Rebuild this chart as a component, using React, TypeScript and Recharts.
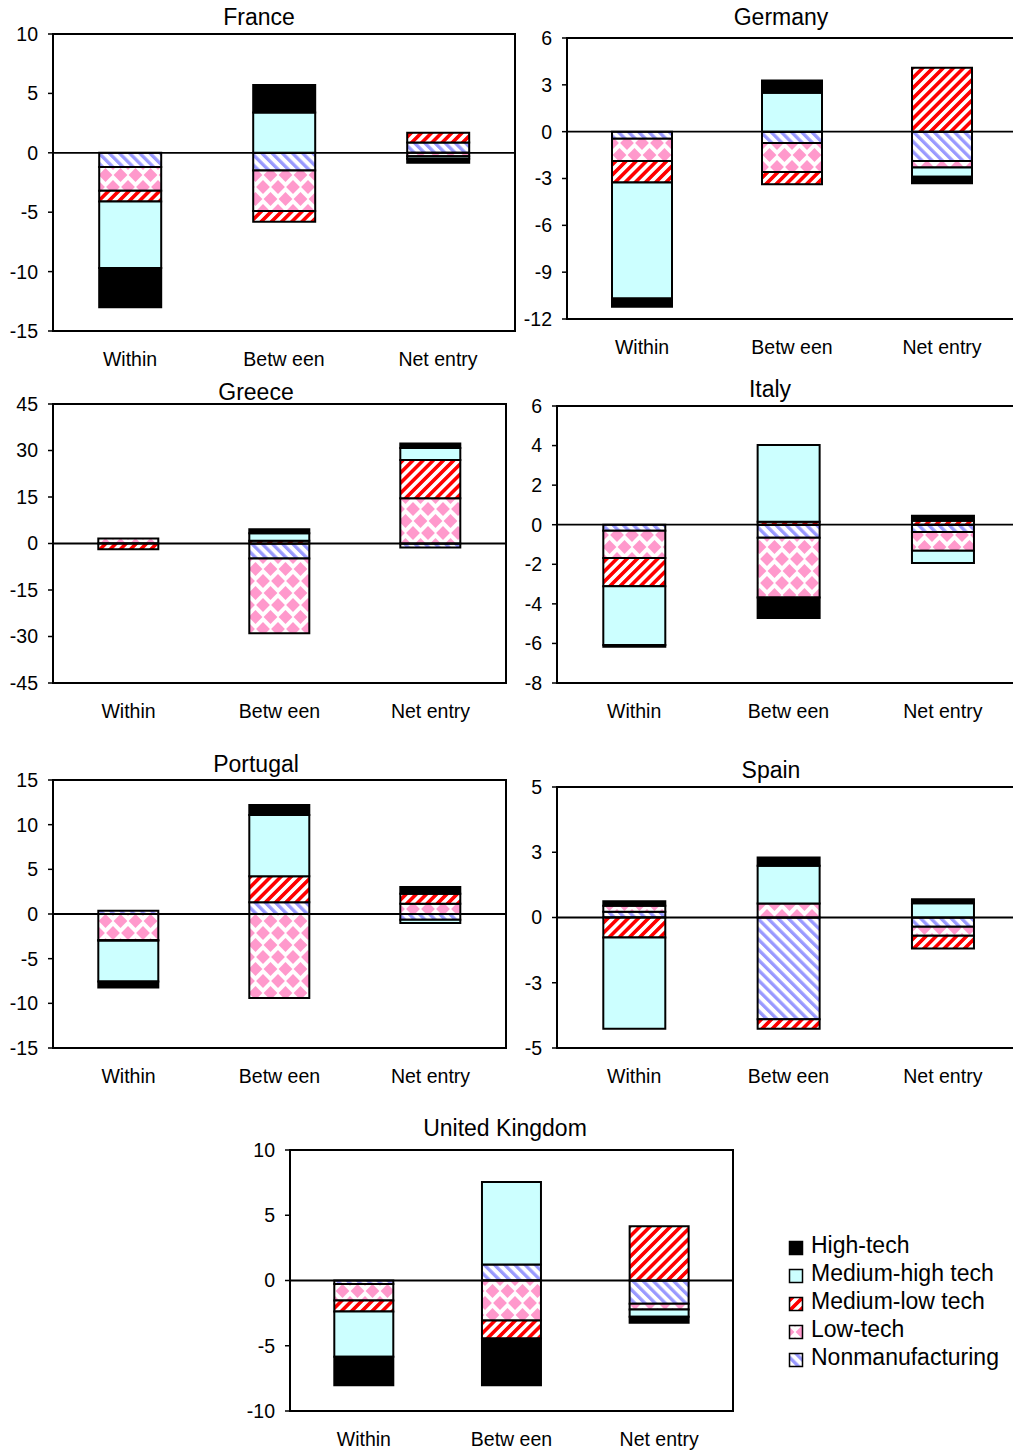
import React from "react";
import { BarChart, Bar, XAxis, YAxis, ReferenceLine, ReferenceArea } from "recharts";

const FONT = "'Liberation Sans', Arial, Helvetica, sans-serif";

const categories = ["Within", "Betw een", "Net entry"];
const legendLabels = ["High-tech", "Medium-high tech", "Medium-low tech", "Low-tech", "Nonmanufacturing"];

// values per sector: [Within, Between, Net entry]
const franceNonmanufacturing = [-1.2, -1.5, 0.87];
const franceLowTech = [-2.0, -3.4, -0.28];
const franceMediumLowTech = [-0.9, -0.9, 0.81];
const franceMediumHighTech = [-5.6, 3.4, -0.22];
const franceHighTech = [-3.3, 2.3, -0.34];
const franceTicks = [-15, -10, -5, 0, 5, 10];

const germanyNonmanufacturing = [-0.45, -0.72, -1.88];
const germanyLowTech = [-1.43, -1.86, -0.42];
const germanyMediumLowTech = [-1.38, -0.79, 4.09];
const germanyMediumHighTech = [-7.42, 2.49, -0.58];
const germanyHighTech = [-0.53, 0.79, -0.42];
const germanyTicks = [-12, -9, -6, -3, 0, 3, 6];

const greeceNonmanufacturing = [0, -4.84, -1.3];
const greeceLowTech = [1.6, -24.1, 14.6];
const greeceMediumLowTech = [-1.83, 0.86, 12.3];
const greeceMediumHighTech = [0, 2.47, 3.87];
const greeceHighTech = [0, 1.29, 1.5];
const greeceTicks = [-45, -30, -15, 0, 15, 30, 45];

const italyNonmanufacturing = [-0.3, -0.66, -0.37];
const italyLowTech = [-1.38, -3.02, -0.94];
const italyMediumLowTech = [-1.43, 0.15, 0.2];
const italyMediumHighTech = [-2.97, 3.88, -0.62];
const italyHighTech = [-0.09, -1.03, 0.25];
const italyTicks = [-8, -6, -4, -2, 0, 2, 4, 6];

const portugalNonmanufacturing = [0.37, 1.31, -0.64];
const portugalLowTech = [-2.9, -9.41, 1.16];
const portugalMediumLowTech = [-0.1, 2.91, 1.12];
const portugalMediumHighTech = [-4.56, 6.87, -0.37];
const portugalHighTech = [-0.67, 1.12, 0.75];
const portugalTicks = [-15, -10, -5, 0, 5, 10, 15];

const spainNonmanufacturing = [0.22, -3.9, -0.35];
const spainLowTech = [0.23, 0.54, -0.35];
const spainMediumLowTech = [-0.77, -0.36, -0.49];
const spainMediumHighTech = [-3.49, 1.44, 0.55];
const spainHighTech = [0.17, 0.32, 0.15];
const spainTicks = [-5, -2.5, 0, 2.5, 5];

const ukNonmanufacturing = [-0.26, 1.23, -1.79];
const ukLowTech = [-1.27, -3.07, -0.43];
const ukMediumLowTech = [-0.85, -1.38, 4.16];
const ukMediumHighTech = [-3.47, 6.31, -0.56];
const ukHighTech = [-2.17, -3.58, -0.46];
const ukTicks = [-10, -5, 0, 5, 10];

const fmt = (v: number) => String(Math.sign(v) * Math.round(Math.abs(v)));

type ChartProps = {
  nm: number[];
  lt: number[];
  ml: number[];
  mh: number[];
  ht: number[];
  ticks: number[];
  left: number;
  top: number;
  width: number;
  height: number;
};

function CountryChart({ nm, lt, ml, mh, ht, ticks, left, top, width, height }: ChartProps) {
  const data = categories.map((c, i) => ({
    category: c,
    nm: nm[i],
    lt: lt[i],
    ml: ml[i],
    mh: mh[i],
    ht: ht[i],
  }));
  const YW = 60;
  const MT = 15;
  const MR = 5;
  const XH = 45;
  const lo = Math.min(...ticks);
  const hi = Math.max(...ticks);
  const line = { stroke: "#000", strokeWidth: 2 };
  const barProps = { stackId: "s", stroke: "#000", strokeWidth: 2, isAnimationActive: false };
  return (
    <div style={{ position: "absolute", left: left - YW, top: top - MT }}>
      <BarChart
        width={YW + width + MR}
        height={MT + height + XH}
        data={data}
        stackOffset="sign"
        barCategoryGap="30%"
        margin={{ top: MT, right: MR, left: 0, bottom: 0 }}
      >
        <XAxis
          dataKey="category"
          type="category"
          interval={0}
          tickLine={false}
          tickSize={0}
          tickMargin={21}
          height={XH}
          axisLine={line}
          tick={{ fill: "#000", fontSize: 19.5, fontFamily: FONT }}
        />
        <YAxis
          type="number"
          domain={[lo, hi]}
          ticks={ticks}
          interval={0}
          allowDataOverflow
          width={YW}
          tickSize={5}
          tickMargin={10}
          tickLine={{ stroke: "#000", strokeWidth: 1.5 }}
          axisLine={line}
          tick={{ fill: "#000", fontSize: 19.5, fontFamily: FONT }}
          tickFormatter={fmt}
        />
        <ReferenceArea y1={lo} y2={hi} fill="none" fillOpacity={0} stroke="#000" strokeWidth={2} ifOverflow="visible" />
        <Bar dataKey="nm" fill="url(#pNM)" {...barProps} />
        <Bar dataKey="lt" fill="url(#pLT)" {...barProps} />
        <Bar dataKey="ml" fill="url(#pML)" {...barProps} />
        <Bar dataKey="mh" fill="#CCFFFF" {...barProps} />
        <Bar dataKey="ht" fill="#000000" {...barProps} />
        <ReferenceLine y={0} stroke="#000" strokeWidth={1.8} />
      </BarChart>
    </div>
  );
}

const legendFills = ["#000000", "#CCFFFF", "url(#pML)", "url(#pLT)", "url(#pNM)"];

export default function App() {
  const titles = [
    { text: "France", x: 259, y: 25 },
    { text: "Germany", x: 781, y: 25 },
    { text: "Greece", x: 256, y: 400 },
    { text: "Italy", x: 770, y: 397 },
    { text: "Portugal", x: 256, y: 772 },
    { text: "Spain", x: 771, y: 778 },
    { text: "United Kingdom", x: 505, y: 1136 },
  ];
  return (
    <div
      style={{
        position: "absolute",
        left: 0,
        top: 0,
        width: 1013,
        height: 1450,
        overflow: "hidden",
        background: "#fff",
        fontFamily: FONT,
      }}
    >
      <svg width={1013} height={1450} style={{ position: "absolute", left: 0, top: 0 }}>
        <defs>
          <pattern id="pNM" patternUnits="userSpaceOnUse" width="7.2" height="7.2" patternTransform="rotate(-45)">
            <rect width="7.2" height="7.2" fill="#fff" />
            <rect width="3.3" height="7.2" fill="#9999FF" />
          </pattern>
          <pattern id="pML" patternUnits="userSpaceOnUse" width="7.2" height="7.2" patternTransform="rotate(45)">
            <rect width="7.2" height="7.2" fill="#fff" />
            <rect width="3.6" height="7.2" fill="#FF0000" />
          </pattern>
          <pattern id="pLT" patternUnits="userSpaceOnUse" width="15" height="24">
            <rect width="15" height="24" fill="#fff" />
            <polygon points="7.5,5.1 14.4,12 7.5,18.9 0.6,12" fill="#FF99CC" />
            <polygon points="0,-6.9 6.9,0 0,6.9 -6.9,0" fill="#FF99CC" />
            <polygon points="15,-6.9 21.9,0 15,6.9 8.1,0" fill="#FF99CC" />
            <polygon points="0,17.1 6.9,24 0,30.9 -6.9,24" fill="#FF99CC" />
            <polygon points="15,17.1 21.9,24 15,30.9 8.1,24" fill="#FF99CC" />
          </pattern>
        </defs>
        {titles.map((t) => (
          <text key={t.text} x={t.x} y={t.y} textAnchor="middle" fontSize={23} fontFamily={FONT} fill="#000">
            {t.text}
          </text>
        ))}
        {legendLabels.map((l, i) => (
          <g key={l}>
            <rect x={789.5} y={1241.5 + i * 28} width={13} height={13} fill={legendFills[i]} stroke="#000" strokeWidth={1.5} />
            <text x={811} y={1253 + i * 28} fontSize={23} fontFamily={FONT} fill="#000">
              {l}
            </text>
          </g>
        ))}
      </svg>
      <CountryChart nm={franceNonmanufacturing} lt={franceLowTech} ml={franceMediumLowTech} mh={franceMediumHighTech} ht={franceHighTech} ticks={franceTicks} left={53} top={34} width={462} height={297} />
      <CountryChart nm={germanyNonmanufacturing} lt={germanyLowTech} ml={germanyMediumLowTech} mh={germanyMediumHighTech} ht={germanyHighTech} ticks={germanyTicks} left={567} top={38} width={450} height={281} />
      <CountryChart nm={greeceNonmanufacturing} lt={greeceLowTech} ml={greeceMediumLowTech} mh={greeceMediumHighTech} ht={greeceHighTech} ticks={greeceTicks} left={53} top={404} width={453} height={279} />
      <CountryChart nm={italyNonmanufacturing} lt={italyLowTech} ml={italyMediumLowTech} mh={italyMediumHighTech} ht={italyHighTech} ticks={italyTicks} left={557} top={406} width={463} height={277} />
      <CountryChart nm={portugalNonmanufacturing} lt={portugalLowTech} ml={portugalMediumLowTech} mh={portugalMediumHighTech} ht={portugalHighTech} ticks={portugalTicks} left={53} top={780} width={453} height={268} />
      <CountryChart nm={spainNonmanufacturing} lt={spainLowTech} ml={spainMediumLowTech} mh={spainMediumHighTech} ht={spainHighTech} ticks={spainTicks} left={557} top={787} width={463} height={261} />
      <CountryChart nm={ukNonmanufacturing} lt={ukLowTech} ml={ukMediumLowTech} mh={ukMediumHighTech} ht={ukHighTech} ticks={ukTicks} left={290} top={1150} width={443} height={261} />
    </div>
  );
}
